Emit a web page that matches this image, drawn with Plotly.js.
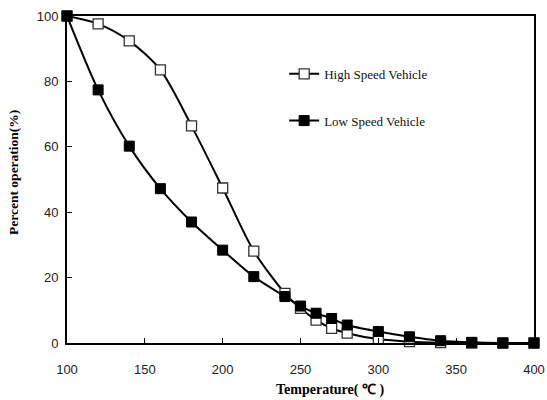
<!DOCTYPE html>
<html>
<head>
<meta charset="utf-8">
<script src="https://cdn.plot.ly/plotly-3.0.1.min.js"></script>
<style>html,body{margin:0;padding:0;background:#fff;}#chart{width:547px;height:400px;}</style>
</head>
<body>
<div id="chart"></div>
<script>
const temperature = [100,120,140,160,180,200,220,240,250,260,270,280,300,320,340,360,380,400];
const highSpeed = [100,97.6,92.4,83.5,66.4,47.4,28.1,15.2,10.6,7.0,4.5,3.0,1.2,0.4,0.1,0,0,0];
const lowSpeed  = [100,77.4,60.2,47.2,37.0,28.4,20.3,14.2,11.3,9.1,7.5,5.5,3.5,1.9,0.7,0.2,0,0];
const xTicks = [100,150,200,250,300,350,400];
const yTicks = [0,20,40,60,80,100];
const xTitle = "Temperature( ℃ )";
const yTitle = "Percent operation(%)";

const serif = "Liberation Serif, Times New Roman, serif";
const sans = "Liberation Sans, Arial, sans-serif";

const traces = [
  {x: temperature, y: highSpeed, name: "High Speed Vehicle", mode: "lines+markers",
   line: {shape: "spline", smoothing: 0.8, color: "#000", width: 2},
   marker: {symbol: "square", size: 10, color: "#fff", line: {color: "#333", width: 1.3}},
   cliponaxis: false, legend: "legend"},
  {x: temperature, y: lowSpeed, name: "Low Speed Vehicle", mode: "lines+markers",
   line: {shape: "spline", smoothing: 0.8, color: "#000", width: 2},
   marker: {symbol: "square", size: 10, color: "#000", line: {color: "#000", width: 1}},
   cliponaxis: false, legend: "legend2"}
];

const legendCommon = {xanchor: "left", yanchor: "middle", bgcolor: "rgba(0,0,0,0)",
  font: {family: serif, size: 13, color: "#111"}, itemwidth: 30};

const layout = {
  width: 547, height: 400,
  margin: {l: 67, r: 13, t: 16, b: 57},
  paper_bgcolor: "#fff", plot_bgcolor: "#fff",
  showlegend: true,
  legend: Object.assign({x: 0.465, y: 0.823}, legendCommon),
  legend2: Object.assign({x: 0.465, y: 0.68}, legendCommon),
  xaxis: {range: [100, 400], tickvals: xTicks, ticktext: xTicks.map(String),
    showgrid: false, zeroline: false, showline: true, linecolor: "#000", linewidth: 2, mirror: true,
    ticks: "inside", ticklen: 5, tickcolor: "#000", tickwidth: 1, ticklabelstandoff: 13,
    tickfont: {family: sans, size: 13, color: "#222"}},
  yaxis: {range: [0, 100], tickvals: yTicks, ticktext: yTicks.map(String),
    showgrid: false, zeroline: false, showline: true, linecolor: "#000", linewidth: 2, mirror: true,
    ticks: "inside", ticklen: 5, tickcolor: "#000", tickwidth: 1, ticklabelstandoff: 4,
    tickfont: {family: sans, size: 13, color: "#222"}},
  annotations: [
    {text: "<b>" + xTitle + "</b>", xref: "paper", yref: "paper", x: 0.563, y: -0.1437,
     xanchor: "center", yanchor: "middle", showarrow: false,
     font: {family: serif, size: 14, color: "#000"}},
    {text: "<b>" + yTitle + "</b>", xref: "paper", yref: "paper", x: -0.1135, y: 0.523,
     xanchor: "center", yanchor: "middle", showarrow: false, textangle: -90,
     font: {family: serif, size: 13.5, color: "#000"}}
  ]
};

Plotly.newPlot("chart", traces, layout, {displayModeBar: false, staticPlot: true});
</script>
</body>
</html>
